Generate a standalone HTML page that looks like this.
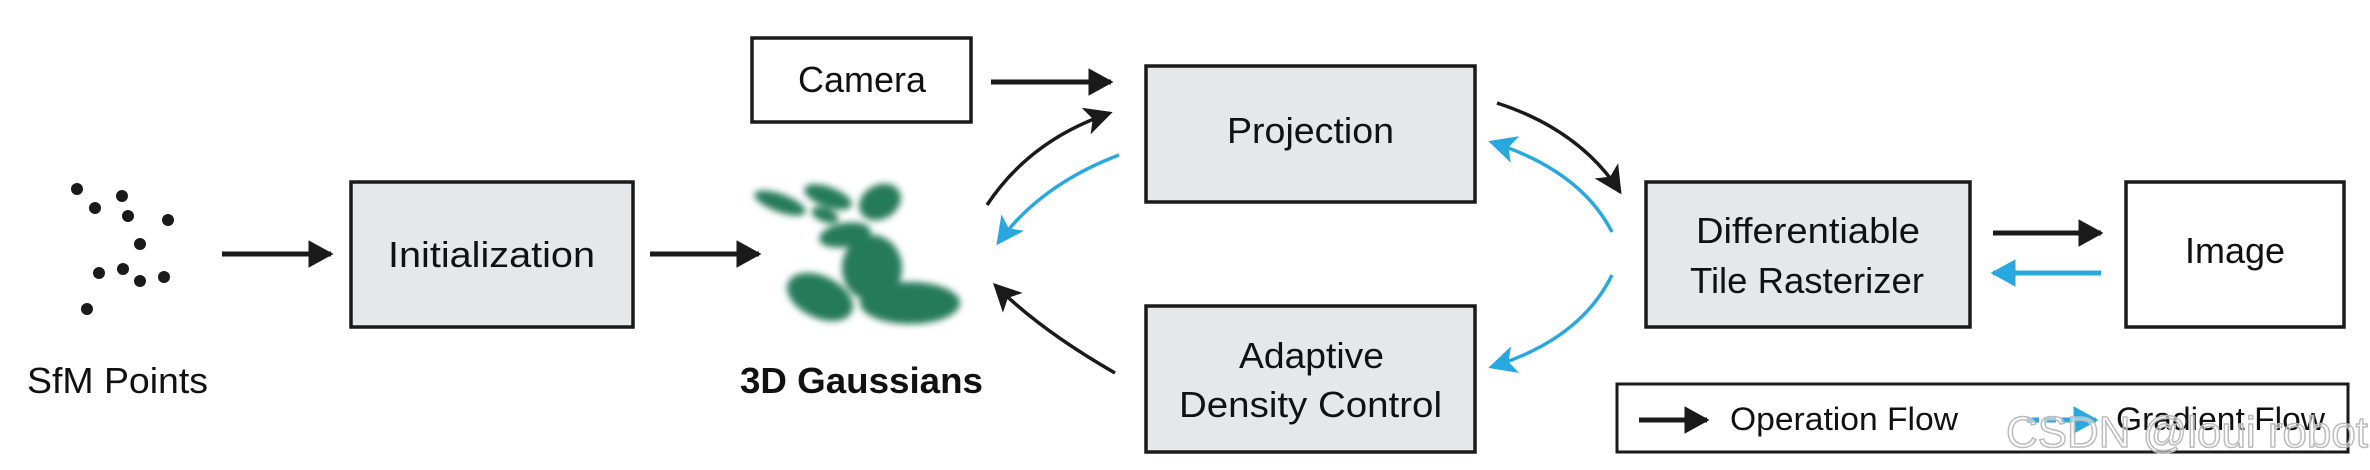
<!DOCTYPE html>
<html><head><meta charset="utf-8"><style>
html,body{margin:0;padding:0;background:#fff;}
svg{display:block;}
text{font-family:"Liberation Sans Narrow","Liberation Sans",sans-serif;fill:#111;}
</style></head><body>
<svg width="2370" height="470" viewBox="0 0 2370 470" xmlns="http://www.w3.org/2000/svg">
<defs>
<filter id="bl" x="-40%" y="-40%" width="180%" height="180%"><feGaussianBlur stdDeviation="3.5"/></filter>
<marker id="ak" viewBox="0 0 10 10" refX="9" refY="5" markerWidth="5" markerHeight="5.5" orient="auto" markerUnits="strokeWidth" preserveAspectRatio="none"><path d="M0,0 L10,5 L0,10 z" fill="#1a1a1a"/></marker>
<marker id="ab" viewBox="0 0 10 10" refX="9" refY="5" markerWidth="5" markerHeight="5.5" orient="auto" markerUnits="strokeWidth" preserveAspectRatio="none"><path d="M0,0 L10,5 L0,10 z" fill="#29a8e0"/></marker>
<marker id="ak2" viewBox="0 0 10 10" refX="9" refY="5" markerWidth="8" markerHeight="8" orient="auto" markerUnits="strokeWidth"><path d="M0,0 L10,5 L0,10 L2.5,5 z" fill="#1a1a1a"/></marker>
<marker id="ab2" viewBox="0 0 10 10" refX="9" refY="5" markerWidth="8" markerHeight="8" orient="auto" markerUnits="strokeWidth"><path d="M0,0 L10,5 L0,10 L2.5,5 z" fill="#29a8e0"/></marker>
</defs>

<g fill="#1a1a1a">
<circle cx="77" cy="189" r="6"/><circle cx="122" cy="196" r="6"/><circle cx="95" cy="208" r="6"/>
<circle cx="128" cy="216" r="6"/><circle cx="168" cy="220" r="6"/><circle cx="140" cy="244" r="6"/>
<circle cx="99" cy="273" r="6"/><circle cx="123" cy="269" r="6"/><circle cx="140" cy="281" r="6"/>
<circle cx="164" cy="277" r="6"/><circle cx="87" cy="309" r="6"/>
</g>
<text x="27" y="393" font-size="36" textLength="181" lengthAdjust="spacingAndGlyphs">SfM Points</text>

<line x1="222" y1="254" x2="331" y2="254" stroke="#1a1a1a" stroke-width="5" marker-end="url(#ak)"/>
<line x1="650" y1="254" x2="759" y2="254" stroke="#1a1a1a" stroke-width="5" marker-end="url(#ak)"/>
<line x1="991" y1="82" x2="1111" y2="82" stroke="#1a1a1a" stroke-width="5" marker-end="url(#ak)"/>
<line x1="1993" y1="233" x2="2101" y2="233" stroke="#1a1a1a" stroke-width="5" marker-end="url(#ak)"/>
<line x1="2101" y1="273" x2="1993" y2="273" stroke="#29a8e0" stroke-width="5" marker-end="url(#ab)"/>

<rect x="351" y="182" width="282" height="145" fill="#e6e7e9" stroke="#1a1a1a" stroke-width="3.5"/>
<text x="388" y="267" font-size="36" textLength="207" lengthAdjust="spacingAndGlyphs">Initialization</text>

<rect x="752" y="38" width="219" height="84" fill="#fff" stroke="#1a1a1a" stroke-width="3.5"/>
<text x="798" y="92" font-size="36" textLength="128" lengthAdjust="spacingAndGlyphs">Camera</text>

<rect x="1146" y="66" width="329" height="136" fill="#e6e7e9" stroke="#1a1a1a" stroke-width="3.5"/>
<text x="1227" y="143" font-size="36" textLength="167" lengthAdjust="spacingAndGlyphs">Projection</text>

<rect x="1146" y="306" width="329" height="146" fill="#e6e7e9" stroke="#1a1a1a" stroke-width="3.5"/>
<text x="1239" y="368" font-size="36" textLength="145" lengthAdjust="spacingAndGlyphs">Adaptive</text>
<text x="1179" y="417" font-size="36" textLength="263" lengthAdjust="spacingAndGlyphs">Density Control</text>

<rect x="1646" y="182" width="324" height="145" fill="#e6e7e9" stroke="#1a1a1a" stroke-width="3.5"/>
<text x="1696" y="243" font-size="36" textLength="224" lengthAdjust="spacingAndGlyphs">Differentiable</text>
<text x="1690" y="293" font-size="36" textLength="234" lengthAdjust="spacingAndGlyphs">Tile Rasterizer</text>

<rect x="2126" y="182" width="218" height="145" fill="#fff" stroke="#1a1a1a" stroke-width="3.5"/>
<text x="2185" y="263" font-size="36" textLength="100" lengthAdjust="spacingAndGlyphs">Image</text>

<g fill="#287a5c" filter="url(#bl)">
<ellipse cx="780" cy="203" rx="27" ry="9" transform="rotate(20 780 203)"/>
<ellipse cx="828" cy="197" rx="25" ry="10" transform="rotate(20 828 197)"/>
<ellipse cx="825" cy="215" rx="14" ry="7" transform="rotate(20 825 215)"/>
<ellipse cx="880" cy="202" rx="22" ry="17" transform="rotate(-30 880 202)"/>
<ellipse cx="845" cy="235" rx="26" ry="12" transform="rotate(-10 845 235)"/>
<ellipse cx="872" cy="268" rx="30" ry="33"/>
<ellipse cx="820" cy="297" rx="35" ry="21" transform="rotate(25 820 297)"/>
<ellipse cx="910" cy="303" rx="50" ry="21"/>
</g>
<text x="740" y="393" font-size="36" font-weight="bold" textLength="243" lengthAdjust="spacingAndGlyphs">3D Gaussians</text>

<path d="M987,205 Q1030,140 1110,113" fill="none" stroke="#1a1a1a" stroke-width="3.5" marker-end="url(#ak2)"/>
<path d="M1119,155 Q1040,185 998,243" fill="none" stroke="#29a8e0" stroke-width="3.5" marker-end="url(#ab2)"/>
<path d="M1115,373 Q1040,330 995,285" fill="none" stroke="#1a1a1a" stroke-width="3.5" marker-end="url(#ak2)"/>
<path d="M1497,103 Q1580,130 1620,192" fill="none" stroke="#1a1a1a" stroke-width="3.5" marker-end="url(#ak2)"/>
<path d="M1612,232 Q1580,170 1491,142" fill="none" stroke="#29a8e0" stroke-width="3.5" marker-end="url(#ab2)"/>
<path d="M1612,275 Q1580,340 1491,367" fill="none" stroke="#29a8e0" stroke-width="3.5" marker-end="url(#ab2)"/>

<rect x="1617" y="384" width="731" height="68" fill="#fff" stroke="#1a1a1a" stroke-width="3"/>
<line x1="1639" y1="420" x2="1707" y2="420" stroke="#1a1a1a" stroke-width="5" marker-end="url(#ak)"/>
<text x="1730" y="430" font-size="32" textLength="228" lengthAdjust="spacingAndGlyphs">Operation Flow</text>
<line x1="2027" y1="420" x2="2096" y2="420" stroke="#29a8e0" stroke-width="5" stroke-dasharray="12 5" marker-end="url(#ab)"/>
<text x="2116" y="430" font-size="32" textLength="209" lengthAdjust="spacingAndGlyphs">Gradient Flow</text>
<text x="2006" y="447" font-size="44" textLength="362" lengthAdjust="spacingAndGlyphs" style="fill:rgba(255,255,255,0.5);stroke:#bbb;stroke-width:1.5">CSDN @loui robot</text>
</svg>
</body></html>
